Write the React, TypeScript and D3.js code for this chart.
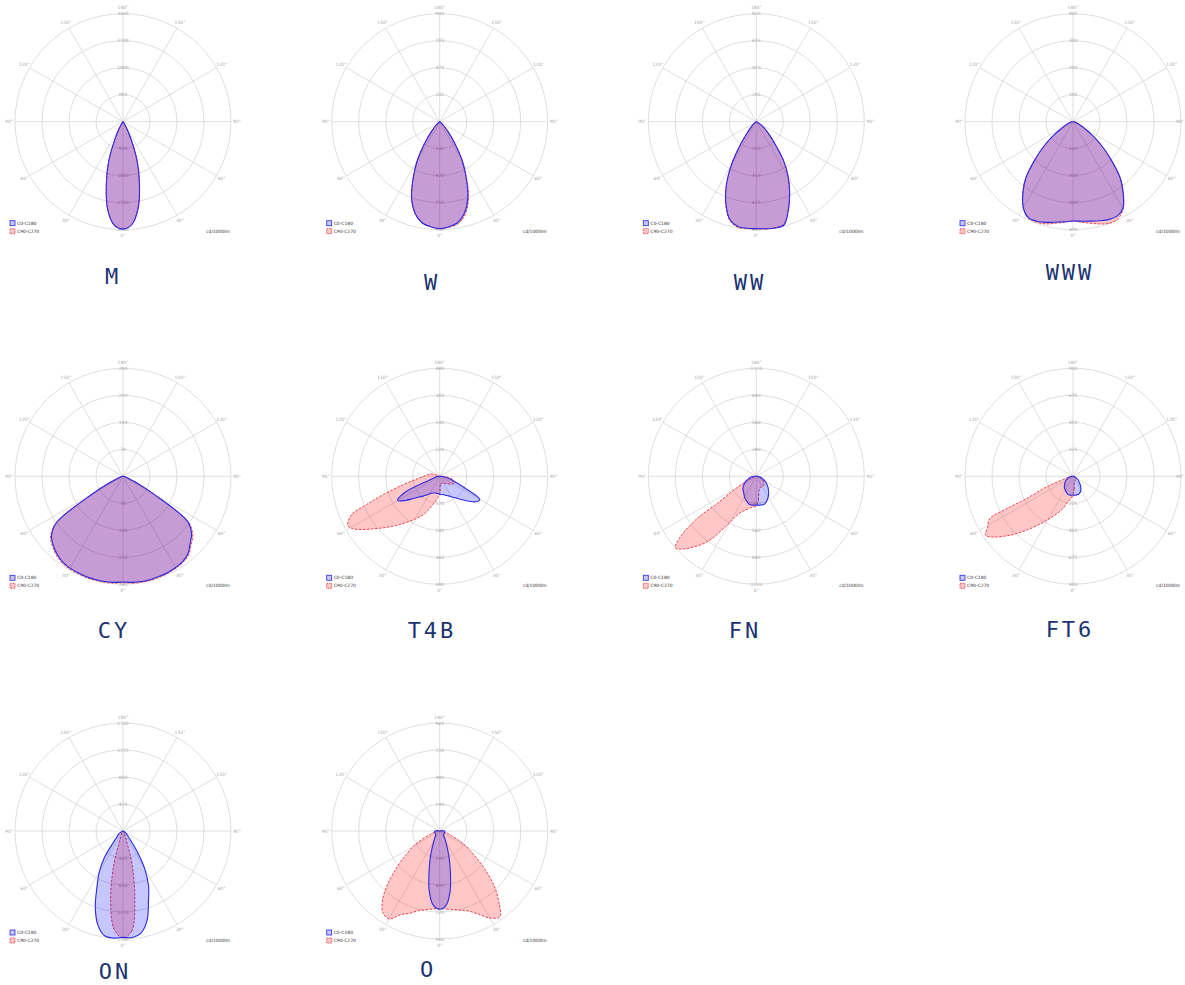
import React from 'react';
import * as d3 from 'd3';

// gamma angles (degrees from nadir) for the regularly sampled intensity arrays
const GAMMA = [0, 5, 10, 15, 20, 25, 30, 35, 40, 45, 50, 55, 60, 65, 70, 75, 80, 85, 90, 95, 100, 105, 110, 115, 120];
// irregular gamma samples for the narrow asymmetric lobes
const T4B_C270_GAMMA = [0, 8, 15.5, 23.5, 39.6, 51.9, 58.9, 61.9, 66.5, 68.9, 72, 77, 85, 106, 120];
const FN_C270_GAMMA = [0, 8, 23.8, 31, 36.9, 44.5, 48.5, 51.4, 54.5, 55.2, 58.3, 62.7, 69, 80, 90];
const FT6_C270_GAMMA = [0, 11, 18.9, 31.2, 40.8, 47, 52.8, 56, 59.2, 63, 64, 64.4, 68, 71.6, 80, 90];

const NAMES = ['M', 'W', 'WW', 'WWW', 'CY', 'T4B', 'FN', 'FT6', 'ON', 'O'];
const MAX_VALUES = [3600, 940, 820, 400, 280, 480, 1120, 900, 1700, 960];
const ANGLE_LABELS = [0, 30, 60, 90, 120, 150, 180];
const LEGEND = ['C0-C180', 'C90-C270'];
const UNIT = 'cd/1000lm';

// cd/1000lm; C0 / C90 = right half, C180 / C270 = left half
const M_C0 = [3580, 3440, 2920, 2120, 1370, 610, 220, 70, 0];
const M_C180 = [3580, 3450, 2960, 2150, 1390, 620, 225, 70, 0];
const M_C90 = [3570, 3430, 2910, 2110, 1360, 600, 210, 60, 0];
const M_C270 = [3570, 3440, 2950, 2140, 1380, 615, 220, 65, 0];

const W_C0 = [930, 917, 893, 827, 714, 550, 390, 226, 113, 47, 19, 0];
const W_C180 = [930, 917, 893, 827, 714, 550, 390, 226, 113, 47, 19, 0];
const W_C90 = [932, 922, 905, 845, 730, 560, 395, 228, 113, 47, 19, 0];
const W_C270 = [930, 917, 893, 827, 714, 550, 390, 226, 113, 47, 19, 0];

const WW_C0 = [812, 816, 820, 812, 713, 599, 484, 361, 221, 139, 90, 49, 25, 8, 0];
const WW_C180 = [812, 812, 808, 771, 672, 541, 377, 205, 98, 53, 25, 8, 0];
const WW_C90 = [814, 818, 818, 805, 710, 599, 484, 361, 221, 139, 90, 49, 25, 8, 0];
const WW_C270 = [814, 814, 814, 778, 676, 541, 377, 205, 98, 53, 25, 8, 0];

const WWW_C0 = [368, 370, 374, 380, 386, 386, 370, 324, 272, 200, 140, 88, 48, 28, 20, 12, 8, 4, 0];
const WWW_C180 = [368, 372, 378, 386, 392, 392, 368, 324, 272, 200, 140, 88, 48, 28, 20, 12, 8, 4, 0];
const WWW_C90 = [368, 374, 382, 392, 400, 396, 372, 326, 272, 200, 140, 88, 48, 28, 20, 12, 8, 4, 0];
const WWW_C270 = [370, 374, 382, 392, 396, 394, 368, 324, 272, 200, 140, 88, 48, 28, 20, 12, 8, 4, 0];

const CY_C0 = [274, 276, 277, 277, 276, 275, 273, 270, 262, 246, 232, 205, 90, 34, 14, 7, 3, 1, 0];
const CY_C180 = [274, 276, 277, 277, 277, 276, 275, 272, 265, 255, 242, 212, 92, 34, 14, 7, 3, 1, 0];
const CY_C90 = [276, 278, 279, 279, 278, 277, 275, 272, 265, 250, 236, 207, 90, 34, 14, 7, 3, 1, 0];
const CY_C270 = [276, 278, 279, 279, 279, 278, 277, 275, 268, 258, 245, 214, 92, 34, 14, 7, 3, 1, 0];

const T4B_C0 = [80, 82, 82, 86, 91, 96, 106, 115, 130, 149, 173, 197, 206, 125, 72, 48, 29, 14, 5, 0];
const T4B_C180 = [80, 77, 77, 77, 79, 82, 91, 101, 115, 130, 154, 187, 216, 173, 48, 24, 14, 5, 0];
const T4B_C90 = [77, 38, 34, 34, 34, 34, 36, 38, 43, 48, 53, 62, 67, 72, 72, 62, 48, 29, 14, 0];
const T4B_C270 = [74, 106, 139, 187, 278, 379, 451, 463, 427, 350, 264, 168, 91, 38, 0];

const FN_C0 = [297, 302, 302, 302, 291, 269, 246, 224, 196, 174, 151, 129, 106, 84, 67, 50, 34, 22, 11, 0];
const FN_C180 = [297, 302, 302, 297, 280, 263, 246, 224, 207, 196, 179, 157, 140, 118, 95, 78, 56, 39, 28, 11, 0];
const FN_C90 = [308, 246, 157, 134, 123, 123, 123, 123, 123, 112, 101, 90, 73, 50, 34, 22, 11, 0];
const FN_C270 = [308, 325, 414, 594, 851, 1053, 1120, 1008, 756, 498, 280, 129, 45, 11, 0];

const FT6_C0 = [158, 158, 159, 158, 153, 144, 131, 113, 95, 77, 63, 50, 36, 27, 18, 14, 9, 5, 0];
const FT6_C180 = [158, 158, 159, 158, 149, 140, 131, 122, 113, 99, 90, 77, 68, 54, 45, 36, 27, 18, 9, 0];
const FT6_C90 = [158, 108, 63, 45, 41, 41, 36, 36, 36, 32, 27, 23, 18, 14, 9, 0];
const FT6_C270 = [158, 216, 297, 432, 594, 720, 837, 878, 828, 779, 621, 432, 243, 90, 27, 0];

const ON_C0 = [1675, 1683, 1632, 1462, 1173, 952, 680, 374, 170, 102, 77, 51, 34, 17, 0];
const ON_C180 = [1675, 1692, 1675, 1530, 1275, 969, 748, 510, 238, 136, 102, 68, 43, 26, 17, 0];
const ON_C90 = [1683, 1581, 1071, 561, 153, 51, 17, 0];
const ON_C270 = [1683, 1564, 1122, 578, 136, 51, 26, 0];

const O_C0 = [696, 662, 538, 365, 240, 154, 106, 77, 58, 50, 48, 46, 45, 44, 44, 44, 45, 45, 43, 19, 0];
const O_C180 = [696, 662, 538, 365, 240, 154, 106, 77, 58, 50, 48, 46, 45, 44, 44, 44, 45, 45, 43, 19, 0];
const O_C90 = [691, 696, 710, 730, 758, 816, 893, 931, 816, 682, 518, 374, 269, 168, 96, 62, 43, 38, 34, 0];
const O_C270 = [691, 696, 710, 734, 778, 821, 902, 883, 787, 643, 490, 365, 269, 168, 96, 62, 43, 38, 34, 0];

type Half = { g: number[]; v: number[] };
const h = (v: number[], g: number[] = GAMMA): Half => ({ g, v });

// [C0, C180, C90, C270]
const SERIES: Half[][] = [
  [h(M_C0), h(M_C180), h(M_C90), h(M_C270)],
  [h(W_C0), h(W_C180), h(W_C90), h(W_C270)],
  [h(WW_C0), h(WW_C180), h(WW_C90), h(WW_C270)],
  [h(WWW_C0), h(WWW_C180), h(WWW_C90), h(WWW_C270)],
  [h(CY_C0), h(CY_C180), h(CY_C90), h(CY_C270)],
  [h(T4B_C0), h(T4B_C180), h(T4B_C90), h(T4B_C270, T4B_C270_GAMMA)],
  [h(FN_C0), h(FN_C180), h(FN_C90), h(FN_C270, FN_C270_GAMMA)],
  [h(FT6_C0), h(FT6_C180), h(FT6_C90), h(FT6_C270, FT6_C270_GAMMA)],
  [h(ON_C0), h(ON_C180), h(ON_C90), h(ON_C270)],
  [h(O_C0), h(O_C180), h(O_C90), h(O_C270)],
];

// layout (not data)
const COL_X = [123, 439.7, 756.3, 1073];
const ROW_Y = [121.7, 476.3, 831];
const TITLE_POS: [number, number][] = [
  [113, 284], [432, 290], [750, 290], [1070, 280],
  [114, 638], [432, 638], [745, 638], [1070, 637],
  [115, 979], [428, 977],
];
const R = 108;
const W_PAGE = 1185;

const BLUE = '#2a2ae0';
const RED = '#e8303a';
const BLUE_FILL = 'rgba(0,0,255,0.22)';
const RED_FILL = 'rgba(255,0,0,0.22)';
const GRID = '#d6d6d6';
const LABEL = '#a8a8a8';
const TITLE = '#1c3372';
const SMALL_FONT = 'DejaVu Sans, sans-serif';

const rad = (d: number) => (d * Math.PI) / 180;

function shapePath(right: Half, left: Half, r: d3.ScaleLinear<number, number>) {
  const pts: [number, number][] = [];
  right.v.forEach((v, i) => pts.push([Math.PI - rad(right.g[i]), r(v)]));
  for (let i = left.v.length - 1; i >= 1; i--) pts.push([Math.PI + rad(left.g[i]), r(left.v[i])]);
  return d3.lineRadial<[number, number]>()
    .angle((d) => d[0])
    .radius((d) => d[1])
    .curve(d3.curveCatmullRomClosed.alpha(0.5))(pts) || '';
}

function Panel({ idx }: { idx: number }) {
  const cx = COL_X[idx % 4];
  const cy = ROW_Y[Math.floor(idx / 4)];
  const max = MAX_VALUES[idx];
  const r = d3.scaleLinear().domain([0, max]).range([0, R]);
  const ticks = d3.range(1, 5).map((k) => (max * k) / 4);
  const [c0, c180, c90, c270] = SERIES[idx];
  const spokes = d3.range(0, 180, 30);
  const angleLabelPos: { t: string; x: number; y: number; anchor: string }[] = [];
  const lr = R + 6;
  ANGLE_LABELS.forEach((a) => {
    let x = lr * Math.sin(rad(a));
    let anchor = 'middle';
    if (cx + x + 6 > W_PAGE) { x = W_PAGE - 1 - cx; anchor = 'end'; }
    angleLabelPos.push({ t: `${a}°`, x, y: lr * Math.cos(rad(a)), anchor });
    if (a !== 0 && a !== 180) angleLabelPos.push({ t: `${a}°`, x: -lr * Math.sin(rad(a)), y: lr * Math.cos(rad(a)), anchor: 'middle' });
  });
  const [tx, ty] = TITLE_POS[idx];
  return (
    <g>
      <g transform={`translate(${cx},${cy})`}>
        {ticks.map((t) => (
          <circle key={t} r={r(t)} fill="none" stroke={GRID} strokeWidth={0.8} />
        ))}
        {spokes.map((a) => (
          <line key={a} x1={R * Math.sin(rad(a))} y1={R * Math.cos(rad(a))}
            x2={-R * Math.sin(rad(a))} y2={-R * Math.cos(rad(a))} stroke={GRID} strokeWidth={0.8} />
        ))}
        {ticks.map((t) => (
          <g key={'l' + t}>
            <text x={0} y={-r(t)} fontSize={4.5} fill={LABEL} textAnchor="middle" dominantBaseline="central"
              fontFamily={SMALL_FONT}>{t}</text>
            <text x={0} y={r(t)} fontSize={4.5} fill={LABEL} textAnchor="middle" dominantBaseline="central"
              fontFamily={SMALL_FONT}>{t}</text>
          </g>
        ))}
        {angleLabelPos.map((p, i) => (
          <text key={'a' + i} x={p.x} y={p.y} fontSize={4.5} fill={LABEL} textAnchor={p.anchor}
            dominantBaseline="central" fontFamily={SMALL_FONT}>{p.t}</text>
        ))}
        <path d={shapePath(c90, c270, r)} fill={RED_FILL} stroke={RED} strokeWidth={0.9} strokeDasharray="2.5,1.5" />
        <path d={shapePath(c0, c180, r)} fill={BLUE_FILL} stroke={BLUE} strokeWidth={1.1} />
        <rect x={-113} y={99} width={5} height={5} fill={BLUE_FILL} stroke={BLUE} strokeWidth={0.8} />
        <text x={-106} y={101.7} fontSize={4.5} fill="#333" dominantBaseline="central"
          fontFamily={SMALL_FONT}>{LEGEND[0]}</text>
        <rect x={-113} y={107} width={5} height={5} fill={RED_FILL} stroke={RED} strokeWidth={0.8} strokeDasharray="1.5,1" />
        <text x={-106} y={109.7} fontSize={4.5} fill="#333" dominantBaseline="central"
          fontFamily={SMALL_FONT}>{LEGEND[1]}</text>
        <text x={107} y={109.7} fontSize={4.5} fill="#333" textAnchor="end" dominantBaseline="central"
          fontFamily={SMALL_FONT}>{UNIT}</text>
      </g>
      <text x={tx} y={ty} fontSize={22} fill={TITLE} textAnchor="middle" letterSpacing={3}
        fontFamily="DejaVu Sans Mono, monospace">{NAMES[idx]}</text>
    </g>
  );
}

export default function App() {
  return (
    <svg width={1185} height={985} style={{ position: 'absolute', left: 0, top: 0, background: '#fff' }}>
      <rect width={1185} height={985} fill="#fff" />
      {NAMES.map((_, i) => (
        <Panel key={i} idx={i} />
      ))}
    </svg>
  );
}
